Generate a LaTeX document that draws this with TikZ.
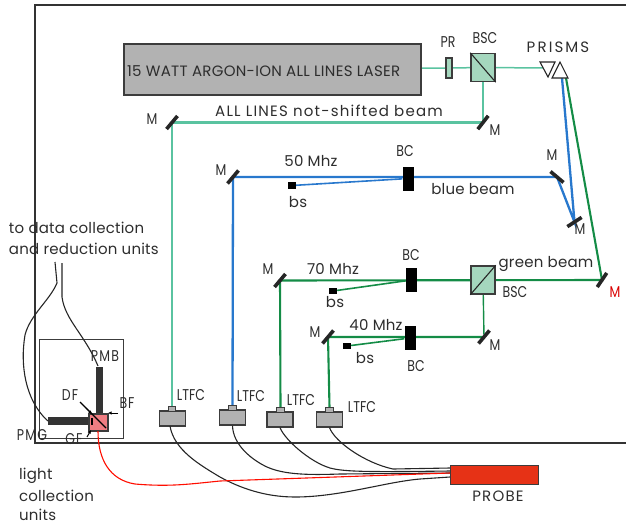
\documentclass[tikz,border=0pt]{standalone}
\usepackage{fontspec}
\usepackage{graphicx}
\setmainfont{Poppins}
\usetikzlibrary{backgrounds,arrows.meta}
\definecolor{lgb}{RGB}{90,195,160}
\definecolor{bb}{RGB}{40,120,205}
\definecolor{gb}{RGB}{20,140,70}
\definecolor{cubeg}{RGB}{165,215,190}
\definecolor{dk}{RGB}{60,60,60}
\definecolor{boxg}{RGB}{178,178,178}
\definecolor{txt}{RGB}{45,45,45}
\definecolor{probered}{RGB}{230,50,22}
\definecolor{pinkc}{RGB}{240,125,130}
\newcommand{\tl}[1]{\scalebox{1}[1.25]{#1}}
\tikzset{
 lbl/.style={font=\fontsize{15}{15}\selectfont\addfontfeature{LetterSpace=1.5},text=txt,inner sep=0pt,outer sep=0pt},
 wlbl/.style={font=\fontsize{15}{15}\selectfont\addfontfeature{LetterSpace=8},text=txt,inner sep=0pt,outer sep=0pt},
 slbl/.style={font=\fontsize{12.5}{13}\selectfont,text=txt,inner sep=0pt,outer sep=0pt},
 mir/.style={fill=black!85,draw=none,minimum width=17pt,minimum height=3.6pt,inner sep=0pt},
 bc/.style={fill=black,draw=none,minimum width=11pt,minimum height=24pt,inner sep=0pt},
 bsnode/.style={fill=black,draw=none,minimum width=8pt,minimum height=6.5pt,inner sep=0pt},
 cube/.style={draw=dk,line width=1.4pt,fill=cubeg,minimum width=24pt,minimum height=28pt,inner sep=0pt},
 ltfc/.style={draw=dk,line width=1.3pt,fill=boxg,minimum width=26pt,minimum height=15pt,inner sep=0pt},
 ltop/.style={draw=dk,line width=1.2pt,fill=boxg,minimum width=7.5pt,minimum height=4.5pt,inner sep=0pt},
 lgthin/.style={draw=lgb,line width=1.5pt},
 lgbeam/.style={draw=lgb,line width=2.2pt},
 bbeam/.style={draw=bb,line width=2.3pt},
 gbeam/.style={draw=gb,line width=2.1pt},
 fib/.style={draw=black!85,line width=1.1pt},
 darkbar/.style={fill=dk!85!black,draw=none,inner sep=0pt},
 tick/.style={-{Latex[length=3.5pt,width=3.5pt]},line width=1pt,black},
}
\begin{document}
\begin{tikzpicture}[x=1pt,y=-1pt]
\useasboundingbox (0,0) rectangle (626,528);
\coordinate (fTR) at (626,5); \coordinate (fTL) at (35,5);
\coordinate (fBL) at (35,443); \coordinate (fBR) at (626,443);
\node[draw=dk,line width=1.4pt,fill=boxg,minimum width=297pt,minimum height=51pt,inner sep=0pt] (laser) at (272.5,69.5) {};
\node[lbl,anchor=west,font=\fontsize{15}{15}\selectfont\addfontfeature{LetterSpace=2}] (lasertxt) at (127,71) {15 WATT ARGON-ION ALL LINES LASER};
\node[draw=dk,line width=1.1pt,fill=cubeg,minimum width=6pt,minimum height=20pt,inner sep=0pt] (pr) at (449,68) {};
\node[cube] (bsc1) at (483,67.5) {};
\draw[black!85,line width=1.1pt] (bsc1.north west) -- (bsc1.south east);
\coordinate (prismA) at (547,68);
\coordinate (prismB) at (562,78);
\coordinate (prismC) at (566,78);
\draw[black!85,line width=1.1pt,fill=white] (540,62) -- (555,62) -- (548,77) -- cycle;
\draw[black!85,line width=1.1pt,fill=white] (552,78) -- (568,78) -- (560,62) -- cycle;
\node[mir,rotate=52] (m1) at (483,122.5) {};
\node[mir,rotate=50] (m2) at (172,122.5) {};
\node[mir,rotate=50] (m3) at (233,177) {};
\node[mir,rotate=-40] (m4) at (557,177) {};
\node[mir,rotate=33] (m5) at (574.5,222) {};
\node[mir,rotate=56] (m6) at (602,280) {};
\node[mir,rotate=50] (m7) at (280,280.5) {};
\node[mir,rotate=50] (m8) at (484,337) {};
\node[mir,rotate=50] (m9) at (328,337) {};
\node[bc] (bc50) at (408,178.5) {};
\node[bc] (bc70) at (411.5,280) {};
\node[bc] (bc40) at (410,338) {};
\node[bsnode] (bs50) at (292,185.5) {};
\node[bsnode] (bs70) at (333,291) {};
\node[bsnode] (bs40) at (347,346) {};
\node[cube] (bsc2) at (483,280) {};
\draw[black!85,line width=1.1pt] (bsc2.south west) -- (bsc2.north east);
\node[ltfc] (l1) at (172.5,418.5) {}; \node[ltop] (t1) at (172,409) {};
\node[ltfc] (l2) at (232.5,417.5) {}; \node[ltop] (t2) at (232.5,408) {};
\node[ltfc] (l3) at (280,419.5) {}; \node[ltop] (t3) at (280.5,410) {};
\node[ltfc] (l4) at (329.5,419.5) {}; \node[ltop] (t4) at (329.5,410) {};
\node[draw=dk,line width=1pt,fill=probered,minimum width=88pt,minimum height=19pt,inner sep=0pt] (probe) at (494,474.5) {};
\coordinate (p1) at (450,468); \coordinate (p2) at (450,471); \coordinate (p3) at (450,473);
\coordinate (p4) at (450,477);
\node[draw=dk,line width=1pt,minimum width=84pt,minimum height=99pt,inner sep=0pt] (detbox) at (81,388.5) {};
\node[darkbar,minimum width=7.5pt,minimum height=46pt] (pmbbar) at (99.5,390) {};
\node[darkbar,minimum width=41pt,minimum height=8pt] (pmgbar) at (68.5,421) {};
\node[draw=dk,line width=1.1pt,fill=pinkc,minimum width=19pt,minimum height=17pt,inner sep=0pt] (dcube) at (98.5,422.5) {};
\draw[black,line width=1.1pt] (92,418) -- (92,425);
\coordinate (dfA) at (80,402); \coordinate (dfB) at (106,428);
\draw[black,line width=1.2pt] (dfA) -- (dfB);
\coordinate (bfA) at (118,413); \coordinate (bfB) at (108,413);
\draw[tick] (bfA) -- (bfB);
\coordinate (dfC) at (86,408); \coordinate (dfD) at (92,414);
\draw[tick] (dfC) -- (dfD);
\coordinate (gfA) at (87,437); \coordinate (gfB) at (91,430);
\draw[tick] (gfA) -- (gfB);
\coordinate (w1) at (55,262); \coordinate (w2) at (62,263);
\begin{scope}[on background layer]
\draw[black!80,line width=1.1pt] (fTR) -- (fTL) -- (fBL) -- (fBR);
\draw[lgthin] (laser.east |- pr) -- (pr) -- (bsc1) -- (prismA);
\draw[lgthin] (bsc1.center) -- (m1.center);
\draw[lgbeam] (m1.center) -- (m2.center) -- (t1.north);
\draw[bbeam] (t2.north) -- (m3.center) -- (m4.center) -- (m5.center) -- (prismB);
\draw[bb,line width=1.6pt] (bs50) -- (bc50);
\draw[gbeam] (prismC) -- (m6.center) -- (m7.center) -- (t3.north);
\draw[gb,line width=1.6pt] (bs70) -- (bc70);
\draw[gb,line width=1.4pt] (bsc2.center) -- (m8.center);
\draw[gbeam] (m8.center) -- (m9.center) -- (t4.north);
\draw[gb,line width=1.6pt] (bs40) -- (bc40);
\end{scope}
\draw[fib] (170,426) .. controls (174,450) and (200,465) .. (220,477)
 .. controls (240,488) and (265,497) .. (295,497)
 .. controls (340,497) and (385,482) .. (420,479) -- (p4);
\draw[fib] (l2.south) .. controls (233,445) and (252,460) .. (267,467)
 .. controls (285,475) and (310,475) .. (340,474) -- (p3);
\draw[fib] (l3.south) .. controls (285,440) and (310,462) .. (330,468)
 .. controls (345,472) and (370,472) .. (p2);
\draw[fib] (l4.south) .. controls (335,442) and (365,463) .. (393,469) -- (p1);
\draw[red!90!orange,line width=1.1pt] (98,431) .. controls (98,460) and (110,480) .. (135,484)
 .. controls (170,487) and (190,484) .. (220,481) -- (p3);
\draw[fib] (w1) -- (57,283) .. controls (50,300) and (30,315) .. (25,335)
 .. controls (20,365) and (25,400) .. (pmgbar.west);
\draw[fib] (w2) -- (62,297) .. controls (65,320) and (85,335) .. (98,366);
\node[wlbl] (a1) at (329,111) {ALL LINES not-shifted beam};
\node[slbl] (a2) at (448,42) {\tl{PR}};
\node[slbl] (a3) at (485,38) {\tl{BSC}};
\node[lbl,font=\fontsize{15}{15}\selectfont\addfontfeature{LetterSpace=14}] (a4) at (558,47) {PRISMS};
\node[slbl] (a5) at (495,130) {\tl{M}};
\node[slbl] (a6) at (152,119) {\tl{M}};
\node[slbl] (a7) at (221,170) {\tl{M}};
\node[slbl] (a8) at (552,155) {\tl{M}};
\node[slbl] (a9) at (580,229) {\tl{M}};
\node[slbl,text=red!85!black] (a10) at (615,292) {\tl{M}};
\node[lbl] (a11) at (311,161) {50 Mhz};
\node[slbl] (a12) at (405,151) {\tl{BC}};
\node[lbl] (a13) at (298,202) {bs};
\node[lbl] (a14) at (473,189) {blue beam};
\node[lbl] (a15) at (546,264) {green beam};
\node[slbl] (a16) at (515,292) {\tl{BSC}};
\node[slbl] (a17) at (411,255) {\tl{BC}};
\node[lbl] (a18) at (333,269) {70 Mhz};
\node[slbl] (a19) at (268,269) {\tl{M}};
\node[lbl] (a20) at (335,302) {bs};
\node[lbl] (a21) at (376,325) {40 Mhz};
\node[slbl] (a22) at (315,332) {\tl{M}};
\node[lbl] (a23) at (365,358) {bs};
\node[slbl] (a24) at (416,366) {\tl{BC}};
\node[slbl] (a25) at (495,345) {\tl{M}};
\node[slbl] (a26) at (191,395) {\tl{LTFC}};
\node[slbl] (a27) at (251,396) {\tl{LTFC}};
\node[slbl] (a28) at (301,400) {\tl{LTFC}};
\node[slbl] (a29) at (362,407) {\tl{LTFC}};
\node[wlbl] (a30) at (498,496) {PROBE};
\node[lbl,anchor=west] (a31) at (9,228) {to data collection};
\node[lbl,anchor=west] (a32) at (9,249) {and reduction units};
\node[slbl,font=\fontsize{12.5}{13}\selectfont\addfontfeature{LetterSpace=10}] (a33) at (105,356) {\tl{PMB}};
\node[slbl,font=\fontsize{12.5}{13}\selectfont\addfontfeature{LetterSpace=8}] (a34) at (70,395) {\tl{DF}};
\node[slbl,font=\fontsize{12.5}{13}\selectfont\addfontfeature{LetterSpace=8}] (a35) at (127,403) {\tl{BF}};
\node[slbl,font=\fontsize{12.5}{13}\selectfont\addfontfeature{LetterSpace=10}] (a36) at (32,435) {\tl{PMG}};
\node[slbl,font=\fontsize{12.5}{13}\selectfont\addfontfeature{LetterSpace=8}] (a37) at (74,439) {\tl{GF}};
\node[lbl,anchor=west] (a38) at (19,476) {light};
\node[lbl,anchor=west] (a39) at (19,496) {collection};
\node[lbl,anchor=west] (a40) at (19,515) {units};
\end{tikzpicture}
\end{document}
